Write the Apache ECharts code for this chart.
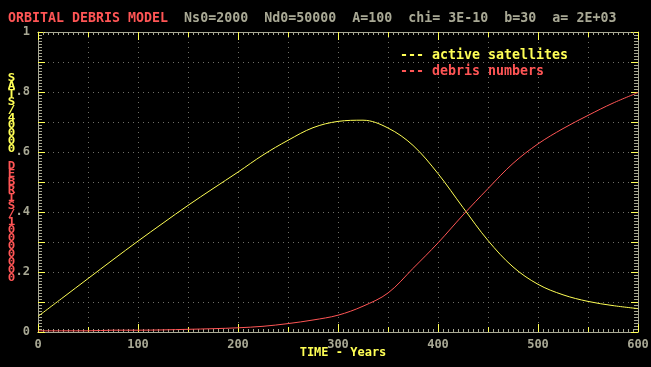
<!DOCTYPE html>
<html>
<head>
<meta charset="utf-8">
<script src="https://cdn.jsdelivr.net/npm/echarts@6/dist/echarts.min.js"></script>
<style>
  html, body { margin: 0; padding: 0; background: #000; }
  #chart { width: 651px; height: 367px; }
</style>
</head>
<body>
<div id="chart"></div>
<script>
// ---- data ----
const years = [0, 25, 50, 75, 100, 125, 150, 175, 200, 225, 250, 275, 300, 325, 350, 375, 400, 425, 450, 475, 500, 525, 550, 575, 600];
const activeSatellites = [0.052, 0.115, 0.178, 0.241, 0.303, 0.363, 0.422, 0.478, 0.533, 0.590, 0.639, 0.681, 0.702, 0.706, 0.680, 0.622, 0.528, 0.415, 0.305, 0.217, 0.159, 0.124, 0.102, 0.088, 0.078];
const debrisNumbers = [0.004, 0.004, 0.004, 0.006, 0.006, 0.007, 0.009, 0.011, 0.014, 0.019, 0.028, 0.040, 0.056, 0.086, 0.130, 0.212, 0.297, 0.390, 0.478, 0.562, 0.627, 0.678, 0.722, 0.763, 0.798];
const seriesNames = ['active satellites', 'debris numbers'];
const titleRed = 'ORBITAL DEBRIS MODEL';
const titleParams = 'Ns0=2000  Nd0=50000  A=100  chi= 3E-10  b=30  a= 2E+03';
const xAxisName = 'TIME - Years';
const yLabelSats = 'SATS/40000';
const yLabelDebris = 'DEBRIS/10000000';

// ---- styling ----
const YEL = '#ffff55', RED = '#ff5555', GRAY = '#a8a894', DOT = '#6e6e66';
const FONT = '"DejaVu Sans Mono", "Liberation Mono", monospace';

const pair = (vals) => years.map((x, i) => [x, vals[i]]);

function xAxisBase(position, interval, tickLen, withMinor, withLabels, withSplit) {
  return {
    type: 'value', min: 0, max: 600, interval: interval, position: position,
    axisLine: { show: true, onZero: false, lineStyle: { color: GRAY, width: 1 } },
    axisTick: { show: true, inside: true, length: tickLen, lineStyle: { color: YEL, width: 1 } },
    minorTick: { show: withMinor, splitNumber: 10, length: 3, lineStyle: { color: GRAY, width: 1 } },
    splitLine: { show: withSplit, lineStyle: { color: DOT, type: [1, 4], width: 1 } },
    axisLabel: {
      show: withLabels, color: GRAY, fontFamily: FONT, fontWeight: 'bold', fontSize: 12, margin: 7
    },
    name: withLabels ? xAxisName : '',
    nameLocation: 'middle', nameGap: 15, nameMoveOverlap: false,
    nameTextStyle: { color: YEL, fontFamily: FONT, fontWeight: 'bold', fontSize: 12, padding: [0, 0, 0, 10] }
  };
}

function yAxisBase(position, withLabels, withSplit) {
  return {
    type: 'value', min: 0, max: 1, interval: 0.1, position: position,
    axisLine: { show: true, onZero: false, lineStyle: { color: GRAY, width: 1 } },
    axisTick: { show: true, inside: true, length: 7, lineStyle: { color: YEL, width: 1 } },
    minorTick: { show: true, splitNumber: 10, length: 4, lineStyle: { color: GRAY, width: 1 } },
    splitLine: { show: withSplit, lineStyle: { color: DOT, type: [1, 4], width: 1 } },
    axisLabel: {
      show: withLabels, color: GRAY, fontFamily: FONT, fontWeight: 'bold', fontSize: 12, margin: 8,
      formatter: function (v) {
        const r = Math.round(v * 10);
        if (r % 2 !== 0) return '';
        if (r === 0) return '0';
        if (r === 10) return '1';
        return '.' + r;
      }
    }
  };
}

const chart = echarts.init(document.getElementById('chart'), null, { renderer: 'canvas' });
chart.setOption({
  backgroundColor: '#000',
  animation: false,
  title: {
    left: 3, top: 7,
    text: '{r|' + titleRed + '}{g|  ' + titleParams + '}',
    textStyle: {
      rich: {
        r: { color: RED, fontFamily: FONT, fontWeight: 'bold', fontSize: 13.3 },
        g: { color: GRAY, fontFamily: FONT, fontWeight: 'bold', fontSize: 13.3 }
      }
    }
  },
  legend: {
    orient: 'vertical', left: 389, top: 43,
    itemWidth: 0, itemHeight: 0, itemGap: 0,
    formatter: '--- {name}',
    selectedMode: false,
    textStyle: { fontFamily: FONT, fontWeight: 'bold', fontSize: 13.3, lineHeight: 16 },
    data: [
      { name: seriesNames[0], textStyle: { color: YEL } },
      { name: seriesNames[1], textStyle: { color: RED } }
    ]
  },
  grid: { left: 38, top: 32, width: 600, height: 300, containLabel: false, outerBoundsMode: 'none' },
  xAxis: [
    xAxisBase('bottom', 100, 8, false, true, false),
    xAxisBase('bottom', 50, 5, true, false, true),
    xAxisBase('top', 100, 8, false, false, false),
    xAxisBase('top', 50, 5, true, false, false)
  ],
  yAxis: [
    yAxisBase('left', true, true),
    yAxisBase('right', false, false)
  ],
  graphic: [
    {
      type: 'text', x: 11.5, y: 74.5, scaleX: 1.25,
      style: { text: yLabelSats.split('').join('\n'), fill: YEL, font: 'bold 10px ' + FONT, lineHeight: 7.9, align: 'center', verticalAlign: 'top' }
    },
    {
      type: 'text', x: 11.5, y: 162.5, scaleX: 1.25,
      style: { text: yLabelDebris.split('').join('\n'), fill: RED, font: 'bold 10px ' + FONT, lineHeight: 8.0, align: 'center', verticalAlign: 'top' }
    }
  ],
  series: [
    {
      name: seriesNames[0], type: 'line', data: pair(activeSatellites),
      xAxisIndex: 0, yAxisIndex: 0, smooth: 0.35, showSymbol: false, symbol: 'none',
      lineStyle: { color: YEL, width: 1 }, itemStyle: { color: YEL }
    },
    {
      name: seriesNames[1], type: 'line', data: pair(debrisNumbers),
      xAxisIndex: 0, yAxisIndex: 0, smooth: 0.35, showSymbol: false, symbol: 'none',
      lineStyle: { color: RED, width: 1 }, itemStyle: { color: RED }
    }
  ]
});
</script>
</body>
</html>
